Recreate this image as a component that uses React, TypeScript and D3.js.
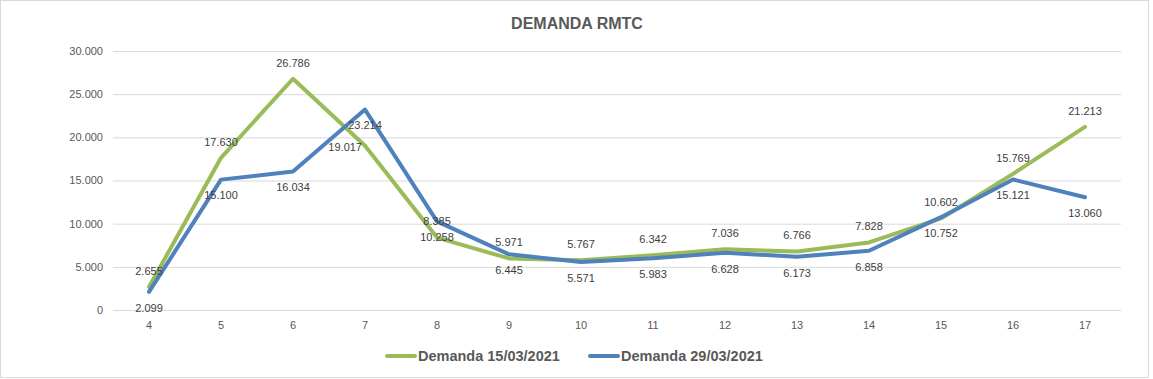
import React from "react";
import * as d3 from "d3";

const categories = ["4", "5", "6", "7", "8", "9", "10", "11", "12", "13", "14", "15", "16", "17"];
const demanda1503 = [2655, 17630, 26786, 19017, 8385, 5971, 5767, 6342, 7036, 6766, 7828, 10602, 15769, 21213];
const demanda2903 = [2099, 15100, 16034, 23214, 10258, 6445, 5571, 5983, 6628, 6173, 6858, 10752, 15121, 13060];
const yTicks = [0, 5000, 10000, 15000, 20000, 25000, 30000];
const seriesNames = ["Demanda 15/03/2021", "Demanda 29/03/2021"];

const W = 1153;
const H = 379;
const GREEN = "#9BBB59";
const BLUE = "#4F81BD";
const FONT = "'Liberation Sans', Arial, sans-serif";

const locale = d3.formatLocale({ decimal: ",", thousands: ".", grouping: [3], currency: ["", ""] });
const fmt = locale.format(",d");

export default function App() {
  const x = d3.scaleBand<string>().domain(categories).range([113, 1121]);
  const y = d3.scaleLinear().domain([0, 30000]).range([310, 51]);
  const cx = (c: string) => (x(c) as number) + x.bandwidth() / 2;

  const line = d3
    .line<number>()
    .x((_, i) => cx(categories[i]))
    .y((d) => y(d));

  const series = [
    { name: seriesNames[0], values: demanda1503, color: GREEN, place: "above" },
    { name: seriesNames[1], values: demanda2903, color: BLUE, place: "below" },
  ];

  return (
    <svg
      width={W}
      height={H}
      style={{ position: "absolute", left: 0, top: 0, display: "block", background: "#fff" }}
    >
      <rect x={0.5} y={0.5} width={1148} height={377} fill="#fff" stroke="#d9d9d9" />
      <text
        x={577}
        y={29}
        textAnchor="middle"
        fontFamily={FONT}
        fontWeight="bold"
        fontSize={16}
        fill="#595959"
      >
        DEMANDA RMTC
      </text>

      {yTicks.map((t) => (
        <g key={t}>
          <line x1={113} x2={1121} y1={y(t) + 0.5} y2={y(t) + 0.5} stroke="#d9d9d9" strokeWidth={1} />
          <text
            x={103}
            y={y(t)}
            dy="0.35em"
            textAnchor="end"
            fontFamily={FONT}
            fontSize={11}
            fill="#595959"
          >
            {fmt(t)}
          </text>
        </g>
      ))}

      {categories.map((c) => (
        <text
          key={c}
          x={cx(c)}
          y={325}
          dy="0.35em"
          textAnchor="middle"
          fontFamily={FONT}
          fontSize={11}
          fill="#595959"
        >
          {c}
        </text>
      ))}

      {series.map((s) => (
        <path
          key={s.name}
          d={line(s.values) || ""}
          fill="none"
          stroke={s.color}
          strokeWidth={4}
          strokeLinejoin="round"
          strokeLinecap="round"
        />
      ))}

      {series.map((s, si) =>
        s.values.map((v, i) => {
          const px = cx(categories[i]);
          const py = y(v);
          let tx = px;
          let ty = s.place === "above" ? py - 16 : py + 16;
          let anchor: "middle" | "end" = "middle";
          if (si === 0 && i === 3) {
            tx = px - 3;
            ty = py + 1;
            anchor = "end";
          }
          return (
            <text
              key={`${si}-${i}`}
              x={tx}
              y={ty}
              dy="0.35em"
              textAnchor={anchor}
              fontFamily={FONT}
              fontSize={11}
              fill="#404040"
            >
              {fmt(v)}
            </text>
          );
        })
      )}

      {series.map((s, si) => {
        const lx = si === 0 ? 387 : 590;
        return (
          <g key={s.name}>
            <line x1={lx} x2={lx + 28} y1={356} y2={356} stroke={s.color} strokeWidth={4} strokeLinecap="round" />
            <text
              x={lx + 31}
              y={356}
              dy="0.35em"
              fontFamily={FONT}
              fontWeight="bold"
              fontSize={14.5}
              fill="#595959"
            >
              {s.name}
            </text>
          </g>
        );
      })}
    </svg>
  );
}
